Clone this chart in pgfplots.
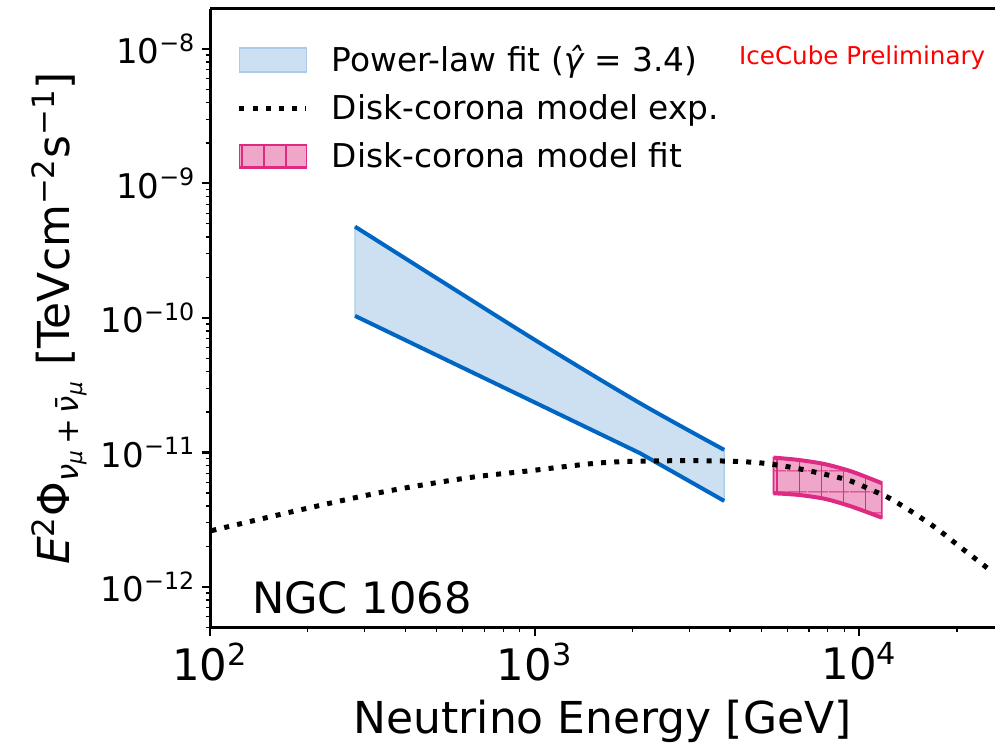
\documentclass[border=0pt]{standalone}
\usepackage{fontspec}
\setmainfont{DejaVu Sans}
\usepackage{pgfplots}
\pgfplotsset{compat=1.18}
\usepgfplotslibrary{fillbetween}
\usetikzlibrary{patterns.meta}
\definecolor{bline}{RGB}{0,102,196}
\definecolor{bfill}{RGB}{205,224,241}
\definecolor{bedge}{RGB}{170,204,234}
\definecolor{pline}{RGB}{222,42,130}
\definecolor{pfill}{RGB}{240,166,200}
\begin{document}
\begin{tikzpicture}
\begin{axis}[
  name=ax,
  xmode=log, ymode=log,
  width=392.5pt, height=309.5pt, scale only axis,
  xmin=100, xmax=26200, ymin=4.95e-13, ymax=1.98e-8,
  axis x line*=box, axis y line*=left,
  axis line style={line width=1.5pt, black},
  tick pos=left, tick align=outside,
  major tick length=3.8pt, minor tick length=2.2pt,
  every major tick/.style={black, line width=1.1pt},
  every minor tick/.style={black, line width=0.6pt},
  xtick={100,1000,10000},
  xticklabels={10\textsuperscript{2},10\textsuperscript{3},10\textsuperscript{4}},
  minor xtick={200,300,400,500,600,700,800,900,2000,3000,4000,5000,6000,7000,8000,9000,20000},
  ytick={1e-12,1e-11,1e-10,1e-9,1e-8},
  yticklabels={10\textsuperscript{−12},10\textsuperscript{−11},10\textsuperscript{−10},10\textsuperscript{−9},10\textsuperscript{−8}},
  minor ytick={5e-13,6e-13,7e-13,8e-13,9e-13,
    2e-12,3e-12,4e-12,5e-12,6e-12,7e-12,8e-12,9e-12,
    2e-11,3e-11,4e-11,5e-11,6e-11,7e-11,8e-11,9e-11,
    2e-10,3e-10,4e-10,5e-10,6e-10,7e-10,8e-10,9e-10,
    2e-9,3e-9,4e-9,5e-9,6e-9,7e-9,8e-9,9e-9},
  x tick label style={font=\fontsize{21.7}{24}\selectfont},
  y tick label style={font=\fontsize{17}{20}\selectfont},
  xlabel={Neutrino Energy [GeV]},
  xlabel style={font=\fontsize{22}{26}\selectfont, yshift=-2.5pt},
  ylabel={\textit{E}\textsuperscript{2}Φ\textsubscript{\textit{ν}\textsubscript{\textit{μ}}\,+\,\textit{ν̄}\textsubscript{\textit{μ}}} [TeVcm\textsuperscript{−2}s\textsuperscript{−1}]},
  ylabel style={font=\fontsize{22}{26}\selectfont},
  legend cell align=left,
  legend style={draw=none, fill=none, at={(rel axis cs:0.026,0.955)}, anchor=north west,
    font=\fontsize{16.4}{19}\selectfont, row sep=6pt, column sep=0pt,
    nodes={inner sep=2pt}},
]
% legend entries
\addlegendimage{legend image code/.code={\draw[fill=bfill, draw=bedge, line width=0.8pt] (0pt,-6pt) rectangle (33.5pt,6pt);}}
\addlegendentry{\hspace{9.5pt}Power-law fit (\textit{γ̂} = 3.4)}
\addlegendimage{legend image code/.code={\draw[black, line width=2.5pt, dash pattern=on 2.5pt off 4.1pt] (0pt,0pt) -- (33.5pt,0pt);}}
\addlegendentry{\hspace{9.5pt}Disk-corona model exp.}
\addlegendimage{legend image code/.code={\draw[fill=pfill, draw=pline, line width=0.8pt,
   postaction={pattern={Lines[angle=90,distance=11pt,line width=0.6pt]}, pattern color=pline},
   postaction={pattern={Lines[angle=0,distance=11pt,line width=0.6pt,yshift=2pt]}, pattern color=pline}] (0pt,-6pt) rectangle (33.5pt,6pt);}}
\addlegendentry{\hspace{9.5pt}Disk-corona model fit}

% power-law butterfly
\addplot[name path=bup, draw=none, forget plot, smooth] coordinates {
 (279.8,4.77e-10) (511,1.905e-10) (1040,6.49e-11) (2113,2.32e-11) (3837,1.045e-11)};
\addplot[name path=blo, draw=none, forget plot] coordinates {
 (279.8,1.035e-10) (1040,2.25e-11) (2113,9.86e-12) (3837,4.36e-12)};
\addplot[fill=bfill, draw=bedge, line width=0.6pt, forget plot] fill between[of=bup and blo];
\addplot[bline, line width=2pt, smooth, forget plot] coordinates {
 (279.8,4.77e-10) (511,1.905e-10) (1040,6.49e-11) (2113,2.32e-11) (3837,1.045e-11)};
\addplot[bline, line width=2pt, forget plot] coordinates {
 (279.8,1.035e-10) (1040,2.25e-11) (2113,9.86e-12) (3837,4.36e-12)};

% disk-corona fit band
\addplot[name path=pup, draw=none, forget plot, smooth] coordinates {
 (5444,9.15e-12) (6502,8.79e-12) (7858,8.17e-12) (9495,7.20e-12) (11749,5.90e-12)};
\addplot[name path=plo, draw=none, forget plot, smooth] coordinates {
 (5444,4.97e-12) (6502,4.83e-12) (7858,4.51e-12) (9495,3.95e-12) (11749,3.27e-12)};
\addplot[fill=pfill, draw=pline, line width=0.8pt, forget plot] fill between[of=pup and plo];
\addplot[pattern={Lines[angle=90,distance=11.1pt,line width=0.6pt]}, pattern color=pline, draw=none, forget plot] fill between[of=pup and plo];
\addplot[pattern={Lines[angle=0,distance=10.5pt,line width=0.6pt]}, pattern color=pline, draw=none, forget plot] fill between[of=pup and plo];
\addplot[pline, line width=2pt, smooth, forget plot] coordinates {
 (5444,9.15e-12) (6502,8.79e-12) (7858,8.17e-12) (9495,7.20e-12) (11749,5.90e-12)};
\addplot[pline, line width=2pt, smooth, forget plot] coordinates {
 (5444,4.97e-12) (6502,4.83e-12) (7858,4.51e-12) (9495,3.95e-12) (11749,3.27e-12)};

% disk-corona model expectation
\addplot[black, line width=2.5pt, dash pattern=on 2.5pt off 4.1pt, smooth, forget plot] coordinates {
 (101,2.62e-12) (185,3.69e-12) (341,5.08e-12) (619,6.46e-12) (955,7.28e-12)
 (1592,8.36e-12) (2388,8.65e-12) (3648,8.65e-12) (4955,8.36e-12) (6577,7.53e-12)
 (9183,6.25e-12) (11040,5.18e-12) (12190,4.67e-12) (14550,3.61e-12) (17380,2.70e-12)
 (20460,1.98e-12) (24100,1.46e-12) (25880,1.27e-12)};

\node[anchor=west, text=red, font=\fontsize{12.3}{15}\selectfont] at (rel axis cs:0.665,0.922) {IceCube Preliminary};
\node[anchor=south west, font=\fontsize{21.6}{25}\selectfont, inner sep=0pt] at (rel axis cs:0.053,0.022) {NGC 1068};
\end{axis}
\pgfresetboundingbox
\path[use as bounding box] ([xshift=-105pt,yshift=-57.5pt]ax.south west) rectangle ([yshift=4.5pt]ax.north east);
\end{tikzpicture}
\end{document}
